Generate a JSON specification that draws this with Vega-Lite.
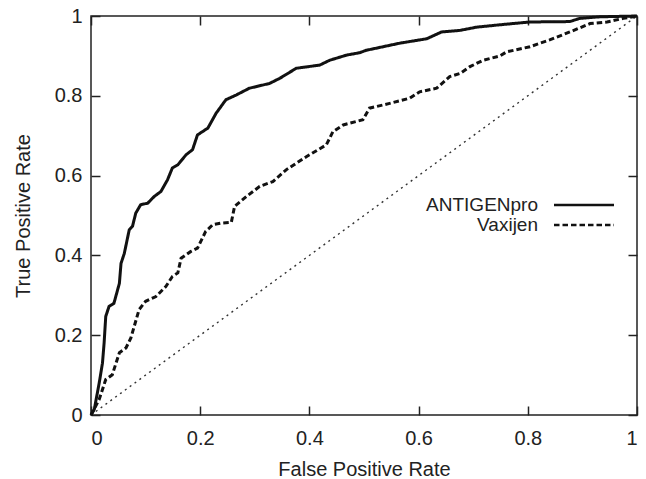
{
  "$schema": "https://vega.github.io/schema/vega-lite/v6.json",
  "width": 546,
  "height": 399,
  "autosize": "none",
  "padding": {"left": 91, "top": 16, "right": 9, "bottom": 64},
  "background": "white",
  "config": {
    "font": "Liberation Sans",
    "view": {"stroke": "#222", "strokeWidth": 1.5},
    "axis": {"grid": false, "domain": false, "tickColor": "#222", "tickWidth": 1.5, "tickSize": -9, "labelFont": "Liberation Sans", "titleFont": "Liberation Sans", "labelColor": "#222", "titleColor": "#222", "titleFontWeight": "normal"}
  },
  "datasets": {
    "roc": [
      {"series": "ANTIGENpro", "fpr": 0, "tpr": 0},
      {"series": "ANTIGENpro", "fpr": 0.006, "tpr": 0.014},
      {"series": "ANTIGENpro", "fpr": 0.015, "tpr": 0.08},
      {"series": "ANTIGENpro", "fpr": 0.021, "tpr": 0.13},
      {"series": "ANTIGENpro", "fpr": 0.024, "tpr": 0.18},
      {"series": "ANTIGENpro", "fpr": 0.027, "tpr": 0.247},
      {"series": "ANTIGENpro", "fpr": 0.033, "tpr": 0.272},
      {"series": "ANTIGENpro", "fpr": 0.042, "tpr": 0.28},
      {"series": "ANTIGENpro", "fpr": 0.052, "tpr": 0.33},
      {"series": "ANTIGENpro", "fpr": 0.055, "tpr": 0.38},
      {"series": "ANTIGENpro", "fpr": 0.061, "tpr": 0.405},
      {"series": "ANTIGENpro", "fpr": 0.07, "tpr": 0.464},
      {"series": "ANTIGENpro", "fpr": 0.076, "tpr": 0.473},
      {"series": "ANTIGENpro", "fpr": 0.082, "tpr": 0.506},
      {"series": "ANTIGENpro", "fpr": 0.091, "tpr": 0.527},
      {"series": "ANTIGENpro", "fpr": 0.104, "tpr": 0.531},
      {"series": "ANTIGENpro", "fpr": 0.116, "tpr": 0.548},
      {"series": "ANTIGENpro", "fpr": 0.128, "tpr": 0.56},
      {"series": "ANTIGENpro", "fpr": 0.14, "tpr": 0.589},
      {"series": "ANTIGENpro", "fpr": 0.149, "tpr": 0.619},
      {"series": "ANTIGENpro", "fpr": 0.159, "tpr": 0.627},
      {"series": "ANTIGENpro", "fpr": 0.174, "tpr": 0.652},
      {"series": "ANTIGENpro", "fpr": 0.186, "tpr": 0.665},
      {"series": "ANTIGENpro", "fpr": 0.195, "tpr": 0.702},
      {"series": "ANTIGENpro", "fpr": 0.204, "tpr": 0.71},
      {"series": "ANTIGENpro", "fpr": 0.214, "tpr": 0.719},
      {"series": "ANTIGENpro", "fpr": 0.229, "tpr": 0.756},
      {"series": "ANTIGENpro", "fpr": 0.238, "tpr": 0.773},
      {"series": "ANTIGENpro", "fpr": 0.247, "tpr": 0.79},
      {"series": "ANTIGENpro", "fpr": 0.266, "tpr": 0.802},
      {"series": "ANTIGENpro", "fpr": 0.29, "tpr": 0.819},
      {"series": "ANTIGENpro", "fpr": 0.327, "tpr": 0.831},
      {"series": "ANTIGENpro", "fpr": 0.346, "tpr": 0.844},
      {"series": "ANTIGENpro", "fpr": 0.376, "tpr": 0.869},
      {"series": "ANTIGENpro", "fpr": 0.419, "tpr": 0.877},
      {"series": "ANTIGENpro", "fpr": 0.437, "tpr": 0.889},
      {"series": "ANTIGENpro", "fpr": 0.468, "tpr": 0.902},
      {"series": "ANTIGENpro", "fpr": 0.492, "tpr": 0.908},
      {"series": "ANTIGENpro", "fpr": 0.504, "tpr": 0.914},
      {"series": "ANTIGENpro", "fpr": 0.566, "tpr": 0.932},
      {"series": "ANTIGENpro", "fpr": 0.615, "tpr": 0.943},
      {"series": "ANTIGENpro", "fpr": 0.642, "tpr": 0.96},
      {"series": "ANTIGENpro", "fpr": 0.676, "tpr": 0.964},
      {"series": "ANTIGENpro", "fpr": 0.706, "tpr": 0.972},
      {"series": "ANTIGENpro", "fpr": 0.749, "tpr": 0.978},
      {"series": "ANTIGENpro", "fpr": 0.804, "tpr": 0.985},
      {"series": "ANTIGENpro", "fpr": 0.877, "tpr": 0.986},
      {"series": "ANTIGENpro", "fpr": 0.895, "tpr": 0.994},
      {"series": "ANTIGENpro", "fpr": 0.932, "tpr": 0.998},
      {"series": "ANTIGENpro", "fpr": 1, "tpr": 1},
      {"series": "Vaxijen", "fpr": 0, "tpr": 0},
      {"series": "Vaxijen", "fpr": 0.015, "tpr": 0.039},
      {"series": "Vaxijen", "fpr": 0.027, "tpr": 0.089},
      {"series": "Vaxijen", "fpr": 0.039, "tpr": 0.101},
      {"series": "Vaxijen", "fpr": 0.052, "tpr": 0.156},
      {"series": "Vaxijen", "fpr": 0.064, "tpr": 0.168},
      {"series": "Vaxijen", "fpr": 0.073, "tpr": 0.193},
      {"series": "Vaxijen", "fpr": 0.088, "tpr": 0.264},
      {"series": "Vaxijen", "fpr": 0.1, "tpr": 0.285},
      {"series": "Vaxijen", "fpr": 0.119, "tpr": 0.297},
      {"series": "Vaxijen", "fpr": 0.137, "tpr": 0.322},
      {"series": "Vaxijen", "fpr": 0.149, "tpr": 0.347},
      {"series": "Vaxijen", "fpr": 0.159, "tpr": 0.356},
      {"series": "Vaxijen", "fpr": 0.165, "tpr": 0.393},
      {"series": "Vaxijen", "fpr": 0.183, "tpr": 0.41},
      {"series": "Vaxijen", "fpr": 0.195, "tpr": 0.418},
      {"series": "Vaxijen", "fpr": 0.21, "tpr": 0.46},
      {"series": "Vaxijen", "fpr": 0.223, "tpr": 0.477},
      {"series": "Vaxijen", "fpr": 0.238, "tpr": 0.481},
      {"series": "Vaxijen", "fpr": 0.257, "tpr": 0.483},
      {"series": "Vaxijen", "fpr": 0.263, "tpr": 0.523},
      {"series": "Vaxijen", "fpr": 0.285, "tpr": 0.548},
      {"series": "Vaxijen", "fpr": 0.309, "tpr": 0.573},
      {"series": "Vaxijen", "fpr": 0.333, "tpr": 0.585},
      {"series": "Vaxijen", "fpr": 0.358, "tpr": 0.615},
      {"series": "Vaxijen", "fpr": 0.376, "tpr": 0.631},
      {"series": "Vaxijen", "fpr": 0.395, "tpr": 0.648},
      {"series": "Vaxijen", "fpr": 0.431, "tpr": 0.677},
      {"series": "Vaxijen", "fpr": 0.443, "tpr": 0.71},
      {"series": "Vaxijen", "fpr": 0.462, "tpr": 0.727},
      {"series": "Vaxijen", "fpr": 0.498, "tpr": 0.74},
      {"series": "Vaxijen", "fpr": 0.51, "tpr": 0.769},
      {"series": "Vaxijen", "fpr": 0.547, "tpr": 0.781},
      {"series": "Vaxijen", "fpr": 0.584, "tpr": 0.794},
      {"series": "Vaxijen", "fpr": 0.602, "tpr": 0.81},
      {"series": "Vaxijen", "fpr": 0.633, "tpr": 0.819},
      {"series": "Vaxijen", "fpr": 0.657, "tpr": 0.848},
      {"series": "Vaxijen", "fpr": 0.676, "tpr": 0.856},
      {"series": "Vaxijen", "fpr": 0.694, "tpr": 0.873},
      {"series": "Vaxijen", "fpr": 0.718, "tpr": 0.889},
      {"series": "Vaxijen", "fpr": 0.749, "tpr": 0.9},
      {"series": "Vaxijen", "fpr": 0.761, "tpr": 0.91},
      {"series": "Vaxijen", "fpr": 0.804, "tpr": 0.923},
      {"series": "Vaxijen", "fpr": 0.84, "tpr": 0.94},
      {"series": "Vaxijen", "fpr": 0.877, "tpr": 0.96},
      {"series": "Vaxijen", "fpr": 0.914, "tpr": 0.981},
      {"series": "Vaxijen", "fpr": 0.945, "tpr": 0.985},
      {"series": "Vaxijen", "fpr": 0.975, "tpr": 0.994},
      {"series": "Vaxijen", "fpr": 1, "tpr": 1}
    ],
    "diag": [
      {"fpr": 0, "tpr": 0},
      {"fpr": 1, "tpr": 1}
    ]
  },
  "layer": [
    {
      "data": {"name": "diag"},
      "mark": {"type": "line", "color": "#333", "strokeWidth": 1.4, "strokeDash": [2, 4]},
      "encoding": {
        "x": {"field": "fpr", "type": "quantitative", "scale": {"domain": [0, 1], "nice": false},
          "axis": {"orient": "top", "labels": false, "title": null, "values": [0, 0.2, 0.4, 0.6, 0.8, 1]}},
        "y": {"field": "tpr", "type": "quantitative", "scale": {"domain": [0, 1], "nice": false},
          "axis": {"orient": "right", "labels": false, "title": null, "values": [0, 0.2, 0.4, 0.6, 0.8, 1]}}
      }
    },
    {
      "data": {"name": "roc"},
      "mark": {"type": "line", "color": "#111", "strokeWidth": 3},
      "encoding": {
        "x": {"field": "fpr", "type": "quantitative",
          "axis": {"orient": "bottom", "title": "False Positive Rate", "values": [0, 0.2, 0.4, 0.6, 0.8, 1], "labelFontSize": 20, "titleFontSize": 20, "labelPadding": 22, "titlePadding": 11, "labelExpr": "datum.value == 0 ? '0' : datum.value == 1 ? '1' : format(datum.value, '.1f')"}},
        "y": {"field": "tpr", "type": "quantitative",
          "axis": {"orient": "left", "title": "True Positive Rate", "values": [0, 0.2, 0.4, 0.6, 0.8, 1], "labelFontSize": 20, "titleFontSize": 20, "labelPadding": 18, "titlePadding": 21, "labelExpr": "datum.value == 0 ? '0' : datum.value == 1 ? '1' : format(datum.value, '.1f')"}},
        "strokeDash": {"field": "series", "type": "nominal",
          "scale": {"domain": ["ANTIGENpro", "Vaxijen"], "range": [[1, 0], [5.5, 3]]},
          "legend": {"orient": "none", "legendX": 483.5, "legendY": 179.5, "title": null, "symbolType": "M-3.75,0H3.75", "symbolSize": 256, "symbolStrokeWidth": 2.6, "symbolStrokeColor": "#111", "symbolFillColor": "transparent", "labelAlign": "right", "labelOffset": -55.5, "labelFontSize": 19, "labelFont": "Liberation Sans", "labelColor": "#222", "rowPadding": -3, "padding": 0}}
      }
    }
  ],
  "resolve": {"axis": {"x": "independent", "y": "independent"}}
}
